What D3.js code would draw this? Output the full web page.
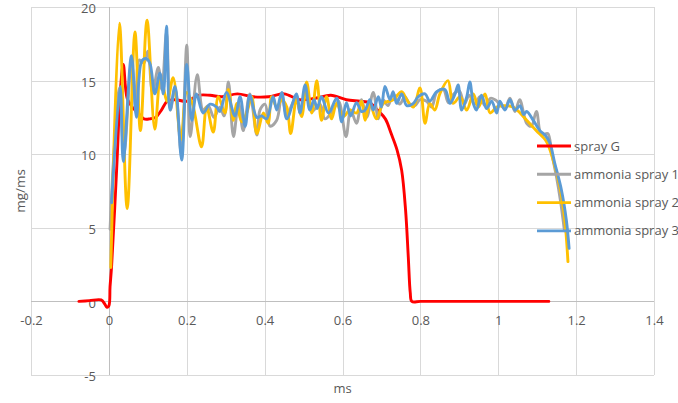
<!DOCTYPE html>
<html><head><meta charset="utf-8">
<script src="https://cdn.jsdelivr.net/npm/d3@7"></script>
<style>
html,body{margin:0;padding:0;background:#fff;}
text{font-family:"Open Sans",sans-serif;fill:#595959;}
</style></head>
<body><svg id="c" width="678" height="403"></svg>
<script>
const xTicks = [-0.2, 0, 0.2, 0.4, 0.6, 0.8, 1, 1.2, 1.4];
const yTicks = [-5, 0, 5, 10, 15, 20];
const seriesNames = ["spray G", "ammonia spray 1", "ammonia spray 2", "ammonia spray 3"];
const seriesColors = ["#FF0000", "#A5A5A5", "#FFC000", "#5B9BD5"];

const sprayGX = [-0.077,-0.05,-0.02,-0.01,-0.005,0.0,0.003,0.007,0.02,0.03,0.037,0.047,0.06,0.075,0.09,0.105,0.12,0.135,0.15,0.17,0.2,0.23,0.26,0.29,0.33,0.37,0.41,0.45,0.49,0.53,0.57,0.61,0.645,0.67,0.69,0.71,0.725,0.74,0.752,0.762,0.769,0.774,0.778,0.8,0.9,1.0,1.13];
const sprayGY = [0,0.05,0.1,-0.2,-0.4,-0.3,1.0,2.4,9,14.5,16.1,13.8,13.2,12.8,12.4,12.4,12.5,13.0,13.6,13.7,13.6,14.0,14.0,13.9,14.1,13.9,13.9,14.1,13.7,13.8,14.0,13.7,13.6,13.5,13.0,12.4,11.4,10.3,8.9,6.2,3.0,0.6,0,0,0,0,0];

const spray1X = [0.003,0.014,0.027,0.039,0.058,0.070,0.078,0.090,0.100,0.112,0.127,0.136,0.148,0.158,0.170,0.186,0.200,0.209,0.227,0.242,0.255,0.270,0.285,0.296,0.307,0.320,0.333,0.345,0.362,0.380,0.388,0.401,0.414,0.431,0.444,0.457,0.469,0.482,0.491,0.508,0.521,0.542,0.555,0.576,0.590,0.609,0.621,0.636,0.649,0.662,0.679,0.692,0.704,0.717,0.730,0.747,0.760,0.773,0.786,0.799,0.816,0.829,0.842,0.859,0.872,0.886,0.900,0.913,0.925,0.940,0.953,0.966,0.980,0.992,1.004,1.017,1.030,1.043,1.055,1.073,1.085,1.098,1.111,1.127,1.137,1.150,1.160,1.170];
const spray1Y = [4.9,10.5,14.5,10.0,16.3,12.8,16.4,16.2,17.0,14.2,15.9,14.4,18.3,13.0,14.5,10.0,17.4,11.2,15.4,13.0,13.3,12.5,13.2,12.6,14.9,11.2,13.5,11.6,14.1,11.3,13.0,13.4,11.9,12.3,14.0,12.6,13.3,13.9,12.8,14.4,12.9,13.4,12.4,13.0,13.6,11.2,13.0,12.1,13.7,12.5,14.2,12.4,13.7,13.3,14.1,13.4,13.9,13.4,13.3,13.7,13.6,13.2,14.2,14.4,13.5,14.1,14.3,13.4,14.0,13.4,13.9,13.3,13.8,13.7,13.4,13.1,13.8,12.9,13.7,12.1,11.9,12.9,11.3,11.4,10.1,8.4,6.8,4.8];

const spray2X = [0.005,0.027,0.047,0.067,0.081,0.098,0.118,0.133,0.150,0.165,0.185,0.200,0.215,0.238,0.251,0.268,0.281,0.298,0.307,0.320,0.328,0.341,0.354,0.367,0.380,0.397,0.409,0.418,0.431,0.444,0.457,0.467,0.482,0.495,0.508,0.521,0.534,0.546,0.559,0.572,0.585,0.602,0.619,0.636,0.649,0.658,0.670,0.687,0.705,0.730,0.752,0.765,0.782,0.799,0.812,0.824,0.837,0.850,0.871,0.884,0.902,0.919,0.936,0.949,0.966,0.979,0.996,1.013,1.038,1.056,1.073,1.098,1.124,1.141,1.158,1.171,1.179];
const spray2Y = [2.3,18.9,6.3,18.3,11.6,19.1,11.7,15.2,13.6,15.2,11.0,14.2,13.4,10.5,13.2,11.5,13.9,12.8,14.4,12.3,13.45,12.2,12.8,13.9,11.4,12.8,12.1,13.9,13.2,13.7,13.2,11.4,13.7,12.55,14.9,12.8,15.0,12.3,13.9,12.4,13.45,12.55,13.0,12.8,13.6,12.3,13.45,12.4,13.45,13.7,14.25,13.7,13.2,14.5,12.1,13.45,13.0,14.1,15.0,13.45,13.9,13.0,14.1,13.2,14.1,12.8,13.2,13.3,13.2,12.8,12.3,11.6,10.85,9.6,7.8,5.5,2.7];

const spray3X = [0.007,0.029,0.037,0.058,0.071,0.084,0.095,0.105,0.118,0.131,0.140,0.148,0.157,0.170,0.187,0.200,0.213,0.225,0.242,0.260,0.277,0.285,0.302,0.324,0.337,0.350,0.362,0.380,0.392,0.405,0.422,0.431,0.444,0.457,0.482,0.491,0.504,0.516,0.527,0.535,0.546,0.564,0.585,0.598,0.610,0.621,0.636,0.649,0.658,0.670,0.679,0.692,0.700,0.709,0.722,0.730,0.739,0.752,0.765,0.782,0.794,0.812,0.824,0.842,0.863,0.876,0.889,0.897,0.906,0.919,0.927,0.936,0.944,0.957,0.970,0.983,0.996,1.004,1.017,1.030,1.043,1.056,1.065,1.073,1.090,1.107,1.120,1.132,1.145,1.162,1.175,1.182];
const spray3Y = [6.7,14.6,9.5,16.7,12.5,16.3,16.5,16.2,14.1,15.5,14.1,18.7,13.0,14.6,9.6,16.1,12.3,14.1,12.8,13.4,13.2,12.9,14.2,12.6,13.9,11.9,14.0,12.5,12.6,12.4,13.9,13.0,14.2,12.4,14.1,12.8,14.7,13.0,13.7,13.1,13.9,12.8,13.8,12.2,13.5,12.6,13.5,12.9,13.0,13.7,13.0,13.9,13.2,14.6,13.7,14.25,13.45,14.1,13.3,13.45,13.9,14.1,13.6,14.25,14.4,13.45,14.1,14.7,13.0,13.9,14.9,13.45,13.0,14.0,13.1,13.6,12.8,13.6,13.0,13.7,13.0,13.3,12.7,12.9,12.3,11.6,11.3,10.8,9.4,7.6,5.5,3.6];

const seriesX = [sprayGX, spray1X, spray2X, spray3X];
const seriesY = [sprayGY, spray1Y, spray2Y, spray3Y];

const svg = d3.select("#c");
const x = d3.scaleLinear().domain([-0.2, 1.4]).range([31, 654]);
const y = d3.scaleLinear().domain([-5, 20]).range([375, 7]);
const fmt = d => String(+d.toFixed(1));

// gridlines
svg.append("g").selectAll("line").data(xTicks).join("line")
  .attr("x1", d => Math.round(x(d)) + 0.5).attr("x2", d => Math.round(x(d)) + 0.5)
  .attr("y1", y(20)).attr("y2", y(-5))
  .attr("stroke", "#d9d9d9").attr("stroke-width", 1);
svg.append("g").selectAll("line").data(yTicks).join("line")
  .attr("y1", d => Math.round(y(d)) + 0.5).attr("y2", d => Math.round(y(d)) + 0.5)
  .attr("x1", x(-0.2)).attr("x2", x(1.4))
  .attr("stroke", "#d9d9d9").attr("stroke-width", 1);

// axis lines
svg.append("line").attr("x1", x(-0.2)).attr("x2", x(1.4))
  .attr("y1", Math.round(y(0)) + 0.5).attr("y2", Math.round(y(0)) + 0.5)
  .attr("stroke", "#bfbfbf");
svg.append("line").attr("x1", Math.round(x(0)) + 0.5).attr("x2", Math.round(x(0)) + 0.5)
  .attr("y1", y(20)).attr("y2", y(-5)).attr("stroke", "#bfbfbf");

// tick labels via axes
const xAxis = d3.axisBottom(x).tickValues(xTicks).tickFormat(fmt).tickSize(0).tickPadding(14);
const gx = svg.append("g").attr("transform", `translate(0,${y(0)})`).call(xAxis);
gx.select(".domain").remove();
gx.selectAll("text").attr("font-size", 13).attr("fill", "#595959").attr("font-family", "Open Sans");

const yAxis = d3.axisLeft(y).tickValues(yTicks).tickFormat(fmt).tickSize(0).tickPadding(13);
const gy = svg.append("g").attr("transform", `translate(${x(0)},1.5)`).call(yAxis);
gy.select(".domain").remove();
gy.selectAll("text").attr("font-size", 13).attr("fill", "#595959").attr("font-family", "Open Sans");

// axis titles
svg.append("text").attr("x", (x(-0.2) + x(1.4)) / 2).attr("y", 393)
  .attr("text-anchor", "middle").attr("font-size", 13).text("ms");
svg.append("text").attr("transform", `translate(25,${(y(20) + y(-5)) / 2}) rotate(-90)`)
  .attr("text-anchor", "middle").attr("font-size", 13.5).text("mg/ms");

// series
const line = d3.line().x(d => x(d[0])).y(d => y(d[1])).curve(d3.curveCatmullRom.alpha(0.5));
seriesNames.forEach((name, i) => {
  const pts = seriesX[i].map((xv, j) => [xv, seriesY[i][j]]);
  svg.append("path").datum(pts).attr("d", line)
    .attr("fill", "none").attr("stroke", seriesColors[i])
    .attr("stroke-width", 2.9).attr("stroke-linejoin", "round").attr("stroke-linecap", "round");
});

// legend
const lg = svg.append("g");
seriesNames.forEach((name, i) => {
  const yy = 146 + i * 28.3;
  lg.append("line").attr("x1", 537).attr("x2", 571).attr("y1", yy).attr("y2", yy)
    .attr("stroke", seriesColors[i]).attr("stroke-width", 2.9);
  lg.append("text").attr("x", 574).attr("y", yy + 4.5).attr("font-size", 13).text(name);
});
</script></body></html>
